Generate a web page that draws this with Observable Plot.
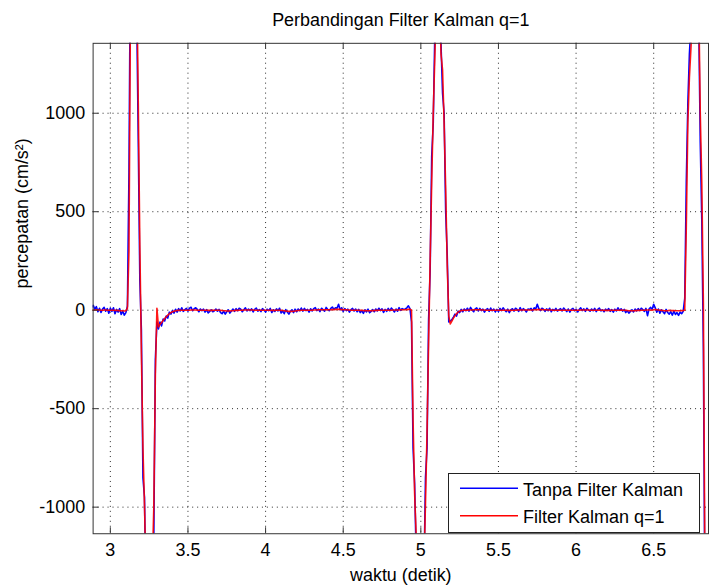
<!DOCTYPE html>
<html>
<head>
<meta charset="utf-8">
<script src="https://cdn.jsdelivr.net/npm/d3@7"></script>
<script src="https://cdn.jsdelivr.net/npm/@observablehq/plot@0.6"></script>
<style>
  html, body { margin: 0; padding: 0; background: #fff; overflow: hidden; }
  #wrap { position: relative; width: 709px; height: 587px; overflow: hidden; }
  #legend { position: absolute; left: 448px; top: 473px; width: 252px; height: 60px;
            border: 1px solid #222; background: #fff; box-sizing: border-box;
            font-family: "Liberation Sans", Arial, sans-serif; font-size: 18px; color: #000; }
  #legend .lab { position: absolute; left: 74px; line-height: 20px; white-space: nowrap; }
  #legend svg { position: absolute; left: 0; top: 0; }
</style>
</head>
<body>
<div id="wrap"></div>
<script>
// ---- data ----
const title = "Perbandingan Filter Kalman q=1";
const xLabel = "waktu (detik)";
const yLabel = "percepatan (cm/s²)";
const seriesNames = ["Tanpa Filter Kalman", "Filter Kalman q=1"];
const xTicks = [3, 3.5, 4, 4.5, 5, 5.5, 6, 6.5];
const yTicks = [-1000, -500, 0, 500, 1000];
const xDomain = [2.889, 6.853];
const yDomain = [-1135, 1355];
const tStart = 2.88, tStep = 0.01;

// Tanpa Filter Kalman (raw), samples from 2.88 s every 0.01 s
const rawValues = [
  15, 25,
  5, 18, -8, 10, -12, 6, 14, -5, 8, -15,
  10, -6, 12, -18, 4, -10, 8, -22, -5, -25,
  -12, 20, 700, 1900, 2600, 2900, 2500, 1500, 850, 150,
  -100, -850, -950, -1500, -1800, -2050, -1900, -1150, -1150, -250,
  -60, -95, -60, -80, -45, -55, -30, -40, -10, -20,
  -2, -15, 5, -10, 8, -4, 12, -6, 3, 9,
  -5, 10, 15, -3, 8, 12, 4, -8, 6, -2,
  5, -10, 3, -14, -6, 2, -8, -3, 6, -5,
  4, -12, -18, -5, -20, -8, 2, -15, -4, 6,
  -6, 8, -3, 10, 5, -8, 2, 12, -4, 6,
  -2, 7, -9, 4, 11, -5, 3, -7, 8, 1,
  -10, 5, -3, 9, -12, 2, -6, 7, -4, 10,
  -14, -4, -18, 3, -9, -20, -6, 2, -12, 5,
  -8, 6, -3, 11, -5, 9, -2, 4, -10, 7,
  -4, 8, 13, -2, 6, -7, 10, 3, -5, 14,
  5, -3, 9, 16, 4, 12, 10, 30, 2, 12,
  -6, 8, -2, 5, -10, 3, 9, -4, 6, -8,
  4, -12, -3, -16, 2, -9, 5, -13, -6, 3,
  -8, 6, -4, 10, -2, 7, -11, 4, -6, 9,
  -3, 11, 2, -9, 6, -5, 13, -1, 8, 4,
  6, 12, 22, 8, -60, -700, -880, -1250, -1300, -1550,
  -1600, -1400, -1350, -850, -700, -50, 200, 780, 950, 1400,
  1600, 1750, 1550, 1350, 1100, 1000, 500, 280, -60, -55,
  -48, -35, -20, -30, -5, -12, 4, -8, 6, -3,
  10, -5, 14, 2, -8, 7, 12, -4, 9, -2,
  5, -10, 3, 8, -6, 11, -3, 6, -9, 4,
  -7, 9, -2, 12, 1, -8, 5, -12, 3, 7,
  -5, 10, 4, -6, 13, -3, 8, 2, -9, 6,
  3, 9, -4, 12, 6, 30, 8, -2, 10, 5,
  -6, 7, -3, 10, -8, 4, -2, 9, -5, 3,
  8, -4, 11, 2, -7, 6, -10, 4, 9, -3,
  5, -9, 3, 12, -2, 7, -6, 10, 1, -5,
  6, -3, 9, -7, 4, 11, -4, 2, -8, 5,
  -2, 8, -6, 3, -10, 5, -4, 12, -1, 7,
  -5, 4, -12, -3, -15, -6, 2, -9, 6, -4,
  8, -2, 10, 3, -6, 9, -28, 6, 14, 5,
  30, 12, -10, 6, -15, 2, -8, -18, 4, -12,
  -20, -8, -25, -5, -22, -12, -26, -10, -18, -6,
  60, 650, 1050, 1300, 1450, 1600, 1700, 1750, 1650, 1480,
  850, 450, -200, -1500, -2600, -3000
];

// Filter Kalman q=1, same sample times
const kalmanValues = [
  0, 0,
  1, 2, 1, 1, 0, 0, 1, 1, 0, 0,
  0, 0, 0, -1, -1, -2, -2, -3, -3, -4,
  -3, 10, 300, 1600, 2300, 2600, 2300, 1700, 1050, 330,
  -220, -700, -990, -1350, -1750, -2000, -1950, -1300, -1000, -330,
  10, -85, -72, -62, -52, -42, -33, -25, -18, -12,
  -8, -5, -3, -2, -1, 0, 0, 0, 0, 0,
  0, 0, 1, 1, 1, 1, 0, 0, 0, 0,
  0, 0, 0, -1, -1, -1, -1, 0, 0, 0,
  0, -1, -2, -3, -3, -4, -4, -4, -3, -3,
  -2, -1, -1, 0, 0, 0, 1, 1, 1, 1,
  1, 1, 1, 0, 0, 0, 0, 0, 0, 0,
  0, 0, 0, 0, -1, -1, -1, 0, 0, 0,
  -1, -2, -3, -4, -5, -6, -6, -6, -5, -4,
  -3, -2, -1, 0, 0, 0, 0, 0, 0, 0,
  0, 1, 1, 1, 2, 2, 2, 2, 2, 2,
  2, 2, 2, 3, 3, 4, 4, 4, 4, 3,
  3, 2, 2, 1, 1, 0, 0, 0, 0, 0,
  0, -1, -1, -2, -2, -3, -3, -3, -3, -2,
  -2, -1, -1, 0, 0, 0, 0, 0, 0, 0,
  0, 0, 1, 1, 1, 1, 1, 2, 2, 2,
  2, 3, 4, 5, 0, -560, -930, -1140, -1350, -1500,
  -1550, -1500, -1300, -980, -620, -170, 250, 650, 1000, 1280,
  1550, 1800, 1600, 1300, 1220, 950, 620, 230, -30, -70,
  -55, -40, -28, -18, -10, -5, -2, -1, 0, 0,
  0, 1, 1, 1, 2, 2, 2, 2, 2, 1,
  1, 1, 0, 0, 0, 0, 0, 0, 0, 0,
  0, 0, 0, 0, 0, 0, -1, -1, -1, 0,
  0, 0, 1, 1, 1, 1, 1, 1, 1, 1,
  1, 1, 1, 2, 2, 3, 3, 3, 3, 2,
  2, 2, 1, 1, 1, 0, 0, 0, 0, 0,
  0, 0, 0, 0, 0, 0, 0, 0, 0, 0,
  0, 0, 0, 1, 1, 1, 1, 1, 1, 0,
  0, 0, 0, 0, 0, 0, 0, 0, -1, -1,
  -1, -1, -1, 0, 0, 0, 0, 0, 0, 1,
  0, 0, -1, -2, -3, -3, -3, -3, -2, -2,
  -1, -1, 0, 0, 0, 1, 1, 1, 1, 0,
  2, 3, 2, 1, 0, -1, -2, -3, -3, -3,
  -1, -2, -2, -2, -3, -3, -3, -3, -2, -2,
  0, 420, 950, 1180, 1330, 1500, 1650, 1750, 1700, 1580,
  1000, 640, 40, -1300, -2500, -3000
];

const colors = ["#0000ff", "#ff0000"];

// ---- build ----
const n = Math.min(rawValues.length, kalmanValues.length);
const raw = [], kal = [];
for (let i = 0; i < n; i++) {
  const t = +(tStart + i * tStep).toFixed(3);
  raw.push({t, v: rawValues[i]});
  kal.push({t, v: kalmanValues[i]});
}

const W = 712, H = 587, mL = 93, mR = 1, mT = 43, mB = 51.5;
const frameW = W - mL - mR, frameH = H - mT - mB;
const font = "'Liberation Sans', Arial, sans-serif";
const dots = {stroke: "#000", strokeOpacity: 0.85, strokeWidth: 1, strokeDasharray: "1,4"};

const chart = Plot.plot({
  width: W, height: H,
  marginLeft: mL, marginRight: mR, marginTop: mT, marginBottom: mB,
  style: {fontFamily: font, fontSize: "18px", color: "#000", background: "#fff", overflow: "visible"},
  x: {domain: xDomain},
  y: {domain: yDomain},
  marks: [
    Plot.gridX(xTicks, {...dots}),
    Plot.gridY(yTicks, {...dots}),
    Plot.line(raw, {x: "t", y: "v", stroke: colors[0], strokeWidth: 1.6, clip: true}),
    Plot.line(kal, {x: "t", y: "v", stroke: colors[1], strokeWidth: 1.6, strokeOpacity: 0.9, clip: true}),
    Plot.frame({stroke: "#333", strokeWidth: 1}),
    Plot.ruleX(xTicks, {x: d => d, stroke: "#333", insetTop: frameH - 6}),
    Plot.ruleX(xTicks, {x: d => d, stroke: "#333", insetBottom: frameH - 6}),
    Plot.ruleY(yTicks, {y: d => d, stroke: "#333", insetRight: frameW - 6}),
    Plot.axisX({ticks: xTicks, tickSize: 0, tickPadding: 10, fontSize: 18, tickFormat: d => String(d), label: null}),
    Plot.axisY({ticks: yTicks, tickSize: 0, tickPadding: 8, fontSize: 18, tickFormat: d => String(d), label: null}),
    Plot.text([title], {text: d => d, frameAnchor: "top", lineAnchor: "middle", dy: -23, fontSize: 18, fill: "#000"}),
    Plot.text([xLabel], {text: d => d, frameAnchor: "bottom", lineAnchor: "middle", dy: 41.5, fontSize: 18, fill: "#000"}),
    Plot.text([yLabel], {text: d => d, frameAnchor: "left", lineAnchor: "middle", dx: -71, rotate: -90, fontSize: 18, fill: "#000"})
  ]
});

const wrap = document.getElementById("wrap");
wrap.appendChild(chart);

// legend
const legend = document.createElement("div");
legend.id = "legend";
const sw = d3.create("svg").attr("width", 80).attr("height", 58);
const rowY = [14.3, 41.7];
const labTop = [5.7, 33];
seriesNames.forEach((name, i) => {
  sw.append("line").attr("x1", 11).attr("x2", 69).attr("y1", rowY[i]).attr("y2", rowY[i])
    .attr("stroke", colors[i]).attr("stroke-width", 1.6);
  const s = document.createElement("span");
  s.className = "lab";
  s.style.top = labTop[i] + "px";
  s.textContent = name;
  legend.appendChild(s);
});
legend.appendChild(sw.node());
wrap.appendChild(legend);
</script>
</body>
</html>
